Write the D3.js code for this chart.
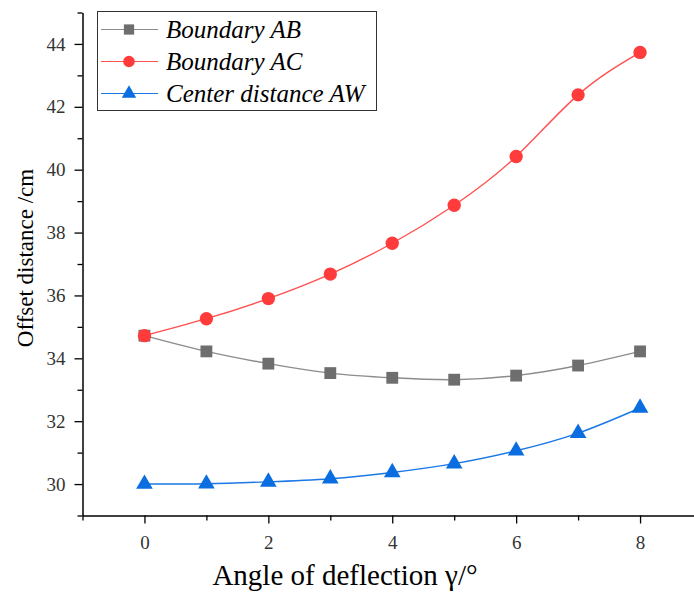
<!DOCTYPE html>
<html>
<head>
<meta charset="utf-8">
<script src="https://cdn.jsdelivr.net/npm/d3@7"></script>
<style>
  body { margin: 0; background: #fff; }
</style>
</head>
<body>
<div id="chart"></div>
<script>
var width = 694, height = 594,
    serif = "'Liberation Serif'";

var angles = [0, 1, 2, 3, 4, 5, 6, 7, 8];
var boundaryAB = [34.72, 34.22, 33.83, 33.53, 33.38, 33.32, 33.45, 33.77, 34.22];
var boundaryAC = [34.72, 35.26, 35.90, 36.68, 37.66, 38.87, 40.42, 42.38, 43.73];
var centerAW = [30.00, 30.01, 30.07, 30.17, 30.37, 30.65, 31.06, 31.62, 32.42];
var seriesNames = ["Boundary AB", "Boundary AC", "Center distance AW"];
var xTicks = [0, 2, 4, 6, 8];
var yTicks = [30, 32, 34, 36, 38, 40, 42, 44];

var svg = d3.select("#chart").append("svg")
    .attr("width", width)
    .attr("height", height);

var x = d3.scaleLinear().domain([-1, 9]).range([82.5, 702]);
var y = d3.scaleLinear().domain([29, 45]).range([515.5, 12.5]);

// minor ticks first
svg.append("g")
    .attr("transform", "translate(0,515.5)")
    .call(d3.axisBottom(x).tickValues([-1, 1, 3, 5, 7]).tickSize(5).tickFormat(""))
    .call(function(g) { g.select(".domain").remove(); });

svg.append("g")
    .attr("transform", "translate(82.5,0)")
    .call(d3.axisLeft(y).tickValues([29, 31, 33, 35, 37, 39, 41, 43, 45]).tickSize(5).tickFormat(""))
    .call(function(g) { g.select(".domain").remove(); });

var xAxis = svg.append("g")
    .attr("transform", "translate(0,515.5)")
    .call(d3.axisBottom(x).tickValues(xTicks).tickSize(8).tickPadding(12).tickSizeOuter(0));

var yAxis = svg.append("g")
    .attr("transform", "translate(82.5,0)")
    .call(d3.axisLeft(y).tickValues(yTicks).tickSize(8).tickPadding(9).tickSizeOuter(0));

svg.selectAll(".domain").attr("stroke", "#000").attr("stroke-width", 1.5);
svg.selectAll(".tick line").attr("stroke", "#000").attr("stroke-width", 1.3);
svg.selectAll(".tick text")
    .style("font-family", serif)
    .style("font-size", "19px")
    .style("fill", "#333");

svg.append("text")
    .attr("x", 345)
    .attr("y", 585)
    .attr("text-anchor", "middle")
    .style("font-family", serif)
    .style("font-size", "29px")
    .text("Angle of deflection γ/°");

svg.append("text")
    .attr("transform", "translate(33,258) rotate(-90)")
    .attr("text-anchor", "middle")
    .style("font-family", serif)
    .style("font-size", "23px")
    .text("Offset distance /cm");

var series = [
    { name: seriesNames[0], values: boundaryAB, line: "#8c8c8c", fill: "#6e6e6e", shape: d3.symbolSquare, size: 140 },
    { name: seriesNames[1], values: boundaryAC, line: "#ff5050", fill: "#ff3b3b", shape: d3.symbolCircle, size: 140 },
    { name: seriesNames[2], values: centerAW, line: "#1a78e6", fill: "#0a6ee0", shape: d3.symbolTriangle, size: 120 }
];

var line = d3.line()
    .x(function(d, i) { return x(angles[i]); })
    .y(function(d) { return y(d); })
    .curve(d3.curveNatural);

series.forEach(function(s) {
    svg.append("path")
        .attr("d", line(s.values))
        .attr("fill", "none")
        .attr("stroke", s.line)
        .attr("stroke-width", 1.4);

    svg.selectAll(null)
        .data(s.values)
        .enter().append("path")
        .attr("d", d3.symbol().type(s.shape).size(s.size))
        .attr("transform", function(d, i) {
            return "translate(" + x(angles[i]) + "," + y(d) + ")";
        })
        .attr("fill", s.fill);
});

// legend
var legend = svg.append("g");

legend.append("rect")
    .attr("x", 97.5)
    .attr("y", 11.5)
    .attr("width", 279)
    .attr("height", 99)
    .attr("fill", "#fff")
    .attr("stroke", "#333")
    .attr("stroke-width", 1);

series.forEach(function(s, i) {
    var ly = 29.5 + i * 32;
    legend.append("line")
        .attr("x1", 101).attr("x2", 158)
        .attr("y1", ly).attr("y2", ly)
        .attr("stroke", s.line)
        .attr("stroke-width", 1.2);
    legend.append("path")
        .attr("d", d3.symbol().type(s.shape).size(s.size * 0.75))
        .attr("transform", "translate(129," + ly + ")")
        .attr("fill", s.fill);
    legend.append("text")
        .attr("x", 166)
        .attr("y", ly + 8)
        .style("font-family", serif)
        .style("font-style", "italic")
        .style("font-size", "25px")
        .text(s.name);
});
</script>
</body>
</html>
